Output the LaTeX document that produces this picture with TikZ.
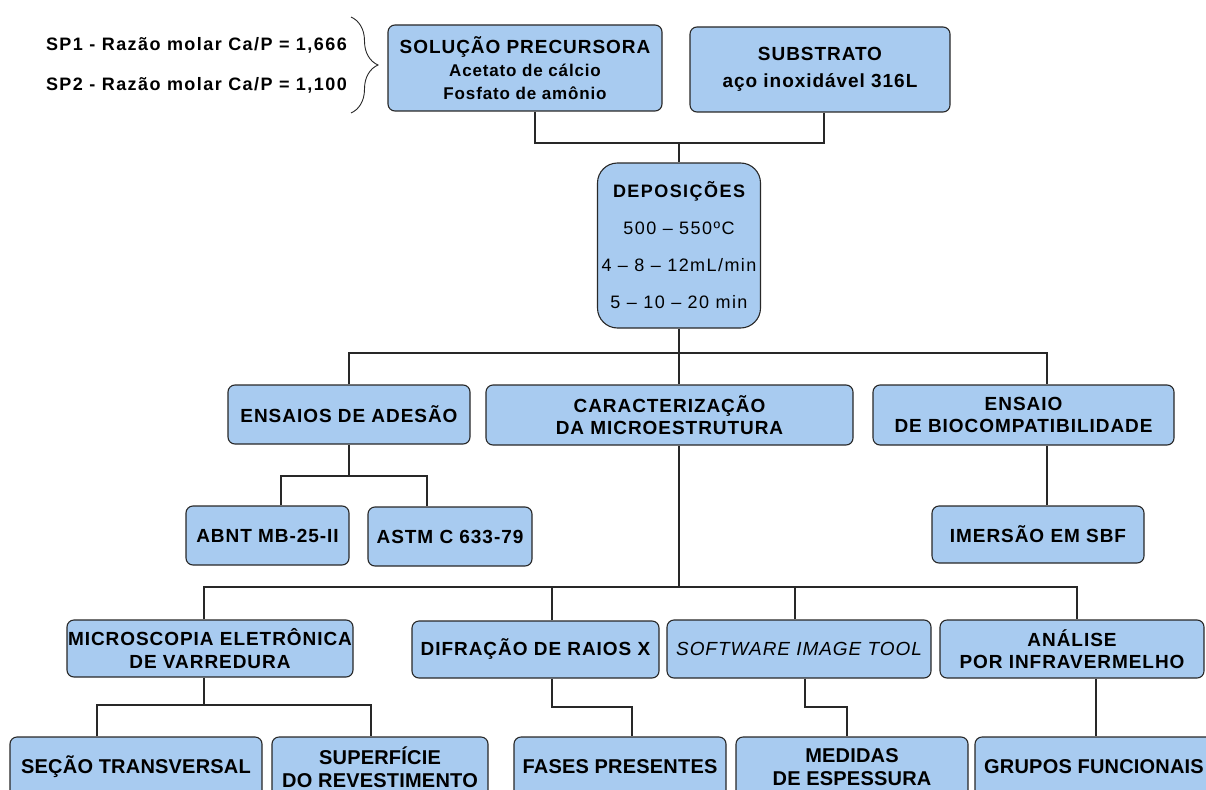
\documentclass[tikz,border=0pt]{standalone}
\usepackage{fontspec}
\setmainfont{Liberation Sans}[LetterSpace=5]
\newfontfamily\widefont{Liberation Sans}[LetterSpace=8]
\newfontfamily\tightfont{Liberation Sans}[LetterSpace=1]
\usetikzlibrary{decorations.pathreplacing}
\definecolor{boxfill}{RGB}{168,203,240}
\definecolor{linegray}{RGB}{40,40,40}
\tikzset{
  box/.style={draw=linegray, fill=boxfill, rounded corners=7pt, line width=1.1pt,
    align=center, inner sep=0pt, font=\fontsize{19}{22.5}\selectfont\bfseries},
  endbox/.style={box, font=\tightfont\fontsize{20}{23}\selectfont\bfseries},
  link/.style={draw=linegray, line width=1.2pt},
  note/.style={anchor=east, inner sep=0pt, font=\widefont\fontsize{18}{22.5}\selectfont\bfseries}
}
\begin{document}
\begin{tikzpicture}[x=1pt,y=-1pt]
\fill[white] (0,0) rectangle (1206,789);
\useasboundingbox (0,0) rectangle (1206,789);
\clip (0,0) rectangle (1206,789);

% precursor ratios and brace
\node[note] (sp1) at (347,45) {SP1 - Razão molar Ca/P = 1,666};
\node[note] (sp2) at (347,85) {SP2 - Razão molar Ca/P = 1,100};
\draw[linegray, line width=0.9pt, decorate, decoration={brace, amplitude=27pt}] (351,17) -- (351,113);

% top row
\node[box, minimum width=274, minimum height=86] (sol) at (525,68)
  {SOLUÇÃO PRECURSORA\\[1pt]{\fontsize{17}{21}\selectfont Acetato de cálcio}\\{\fontsize{17}{21}\selectfont Fosfato de amônio}};
\node[box, minimum width=260, minimum height=85] (sub) at (820,69.5)
  {SUBSTRATO\\[4pt]aço inoxidável 316L};

% deposition
\node[box, rounded corners=20pt, minimum width=163, minimum height=165,
  font=\widefont\fontsize{18}{22.5}\selectfont\bfseries] (dep) at (679,245.5)
  {DEPOSIÇÕES\\[14.5pt]\mdseries 500 – 550ºC\\[14.5pt]\mdseries 4 – 8 – 12mL/min\\[14.5pt]\mdseries 5 – 10 – 20 min};

% second row
\node[box, minimum width=242, minimum height=59] (ade) at (349,414.5) {ENSAIOS DE ADESÃO};
\node[box, minimum width=367, minimum height=60] (car) at (669.5,415) {CARACTERIZAÇÃO\\DA MICROESTRUTURA};
\node[box, minimum width=301, minimum height=60] (bio) at (1023.5,415) {ENSAIO\\DE BIOCOMPATIBILIDADE};

% third row
\node[box, minimum width=163, minimum height=59] (abnt) at (267.5,535.5) {ABNT MB-25-II};
\node[box, minimum width=164, minimum height=59] (astm) at (450,536.5) {ASTM C 633-79};
\node[box, minimum width=212, minimum height=57] (ime) at (1038,534.5) {IMERSÃO EM SBF};

% characterization techniques
\node[box, minimum width=286, minimum height=57] (mev) at (210,648.5) {MICROSCOPIA ELETRÔNICA\\DE VARREDURA};
\node[box, minimum width=247, minimum height=57] (drx) at (535.5,649.5) {DIFRAÇÃO DE RAIOS X};
\node[box, minimum width=264, minimum height=58, font=\fontsize{19}{22.5}\selectfont\itshape] (sw) at (799,649) {SOFTWARE IMAGE TOOL};
\node[box, minimum width=264, minimum height=58] (ana) at (1072,649) {ANÁLISE\\POR INFRAVERMELHO};

% results
\node[endbox, minimum width=252, minimum height=60] (sec) at (136,767) {SEÇÃO TRANSVERSAL};
\node[endbox, minimum width=216, minimum height=60] (sup) at (380,767) {SUPERFÍCIE\\DO REVESTIMENTO};
\node[endbox, minimum width=212, minimum height=60] (fas) at (620,767) {FASES PRESENTES};
\node[endbox, minimum width=232, minimum height=60] (med) at (852,767) {MEDIDAS\\DE ESPESSURA};
\node[endbox, minimum width=238, minimum height=60] (gru) at (1094,767) {GRUPOS FUNCIONAIS};

% connectors
\coordinate (j1) at (679,143);
\draw[link] ([xshift=10]sol.south) |- (j1);
\draw[link] ([xshift=4]sub.south) |- (j1);
\draw[link] (j1) -- (dep.north);

\coordinate (j2) at (679,353);
\draw[link] (dep.south) -- (dep.south |- car.north);
\draw[link] (ade.north) |- (j2) -| ([xshift=23.5]bio.north);

\coordinate (j3) at (349,476);
\draw[link] (ade.south) -- (j3);
\draw[link] ([xshift=13.5]abnt.north) |- (j3) -| ([xshift=-23]astm.north);

\draw[link] ([xshift=23.5]bio.south) -- ([xshift=23.5]bio.south |- ime.north);

\coordinate (j4) at (679,587);
\draw[link] (car.south -| j4) -- (j4);
\draw[link] ([xshift=-6]mev.north) |- (j4) -| ([xshift=5]ana.north);
\draw[link] ([xshift=16.5]drx.north) -- ([xshift=16.5]drx.north |- j4);
\draw[link] ([xshift=-4]sw.north) -- ([xshift=-4]sw.north |- j4);

\coordinate (j5) at (204,705);
\draw[link] ([xshift=-6]mev.south) -- (j5);
\draw[link] ([xshift=-39]sec.north) |- (j5) -| ([xshift=-9]sup.north);

\coordinate (j6) at (632,707);
\draw[link] ([xshift=16.5]drx.south) |- (j6) -- (j6 |- fas.north);

\coordinate (j7) at (847,707);
\draw[link] ([xshift=6]sw.south) |- (j7) -- (j7 |- med.north);

\draw[link] ([xshift=24]ana.south) -- ([xshift=24]ana.south |- gru.north);
\end{tikzpicture}
\end{document}
